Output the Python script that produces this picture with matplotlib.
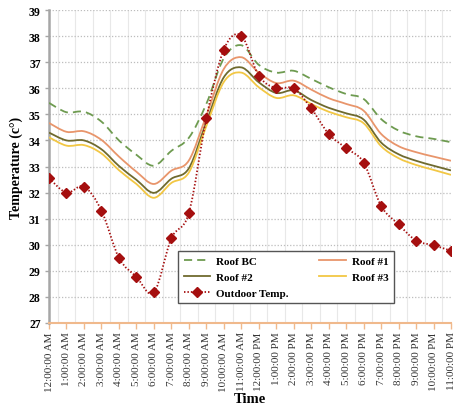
import numpy as np
import matplotlib
matplotlib.use("Agg")
import matplotlib.pyplot as plt
from matplotlib.path import Path
from matplotlib.patches import PathPatch
from matplotlib.lines import Line2D

plt.rcParams["font.family"] = ["Liberation Serif", "DejaVu Serif"]

# hourly readings over one day
hours = ["12:00:00 AM"] + [f"{h}:00:00 AM" for h in range(1, 12)] + \
        ["12:00:00 PM"] + [f"{h}:00:00 PM" for h in range(1, 12)]

outdoor = [32.55, 32.0, 32.23, 31.31, 29.5, 28.77, 28.17, 30.25, 31.22, 34.85, 37.48, 38.02,
           36.48, 36.0, 36.0, 35.23, 34.25, 33.7, 33.15, 31.49, 30.78, 30.16, 29.98, 29.77]
roof_bc = [35.44, 35.08, 35.1, 34.72, 34.0, 33.45, 33.03, 33.6, 34.1, 35.4, 37.15, 37.65,
           36.9, 36.6, 36.67, 36.36, 36.04, 35.78, 35.59, 34.82, 34.38, 34.16, 34.06, 33.93]
roof_1 = [34.67, 34.33, 34.35, 34.02, 33.38, 32.8, 32.33, 32.84, 33.23, 34.95, 36.74, 37.19,
          36.6, 36.2, 36.29, 35.95, 35.62, 35.4, 35.14, 34.25, 33.78, 33.55, 33.38, 33.22]
roof_2 = [34.3, 34.0, 34.0, 33.66, 33.02, 32.49, 31.99, 32.53, 32.93, 34.7, 36.42, 36.8,
          36.23, 35.82, 35.92, 35.55, 35.25, 35.04, 34.8, 33.92, 33.47, 33.22, 33.03, 32.85]
roof_3 = [34.12, 33.8, 33.82, 33.5, 32.86, 32.33, 31.8, 32.37, 32.77, 34.55, 36.24, 36.6,
          36.04, 35.63, 35.73, 35.4, 35.1, 34.89, 34.66, 33.78, 33.32, 33.06, 32.87, 32.68]


def smooth_path(x, y):
    """Catmull-Rom style bezier through every point (like a smoothed line chart)."""
    pts = np.column_stack([x, y]).astype(float)
    n = len(pts)
    verts = [pts[0]]
    codes = [Path.MOVETO]
    for i in range(n - 1):
        p0 = pts[i - 1] if i > 0 else pts[i]
        p1, p2 = pts[i], pts[i + 1]
        p3 = pts[i + 2] if i + 2 < n else pts[i + 1]
        verts += [p1 + (p2 - p0) / 6, p2 - (p3 - p1) / 6, p2]
        codes += [Path.CURVE4] * 3
    return Path(verts, codes)


fig = plt.figure(figsize=(4.59, 4.14), dpi=100)
ax = fig.add_axes([0.1068, 0.2174, 0.8758, 0.756])

x = np.arange(len(hours))
series = [
    ("Roof BC", roof_bc, "#6E9B50", (0, (4.5, 2.8))),
    ("Roof #1", roof_1, "#E8956B", "-"),
    ("Roof #2", roof_2, "#6F6A2E", "-"),
    ("Roof #3", roof_3, "#F2C744", "-"),
]
handles = {}
for name, vals, color, ls in series:
    ax.add_patch(PathPatch(smooth_path(x, vals), fill=False, edgecolor=color,
                           linewidth=1.3, linestyle=ls, zorder=3))
    handles[name] = Line2D([], [], color=color, lw=1.3, linestyle=ls)

# outdoor temperature: fine dotted smoothed line with diamond markers
red = "#A50F0F"
dots = (0, (0.8, 1.1))
ax.add_patch(PathPatch(smooth_path(x, outdoor), fill=False, edgecolor=red,
                       linewidth=1.3, linestyle=dots, zorder=4))
ax.plot(x, outdoor, linestyle="none", marker="D", markersize=5, color=red, zorder=5)
handles["Outdoor Temp."] = Line2D([], [], color=red, lw=1.3, linestyle=dots,
                                  marker="D", markersize=5)

ax.set_xlim(0, 23)
ax.set_ylim(27, 39)
ax.set_xticks(x)
ax.set_xticklabels(hours, rotation=90, fontsize=8, color="#333333")
ax.set_xticks(np.arange(0.5, 23, 1), minor=True)
ax.set_yticks(range(27, 40))
ax.set_yticklabels([str(v) for v in range(27, 40)], fontsize=8.5, fontweight="bold")

ax.grid(which="major", axis="y", color="#BDBDBD", linestyle=(0, (1, 1.5)), linewidth=0.9)
ax.grid(which="minor", axis="x", color="#E8E8E8", linestyle="-", linewidth=0.8)
ax.tick_params(which="minor", length=0)
ax.tick_params(axis="x", which="major", color="#F0B98C", length=4, width=1, pad=2)
ax.tick_params(axis="y", which="major", color="#A6A6A6", length=3, width=1, pad=3)

for side in ("top", "right"):
    ax.spines[side].set_visible(False)
ax.spines["left"].set_color("#A6A6A6")
ax.spines["left"].set_linewidth(1.8)
ax.spines["bottom"].set_color("#F0B98C")
ax.spines["bottom"].set_linewidth(1.5)

ax.set_ylabel("Temperature (c°)", fontsize=10, fontweight="bold", labelpad=4)
ax.set_xlabel("Time", fontsize=10.5, fontweight="bold", labelpad=1)

order = ["Roof BC", "Roof #2", "Outdoor Temp.", "Roof #1", "Roof #3"]
leg = ax.legend([handles[k] for k in order], order, ncol=2, loc="upper left",
                bbox_to_anchor=(0.321, 0.231, 0.537, 0.0), mode="expand",
                borderaxespad=0, fancybox=False, framealpha=1, handlelength=2.4,
                handletextpad=0.5, labelspacing=0.55, borderpad=0.5,
                prop={"weight": "bold", "size": 8})
leg.get_frame().set_edgecolor("#555555")
leg.get_frame().set_linewidth(1.0)

fig.savefig("out.png", dpi=100)
